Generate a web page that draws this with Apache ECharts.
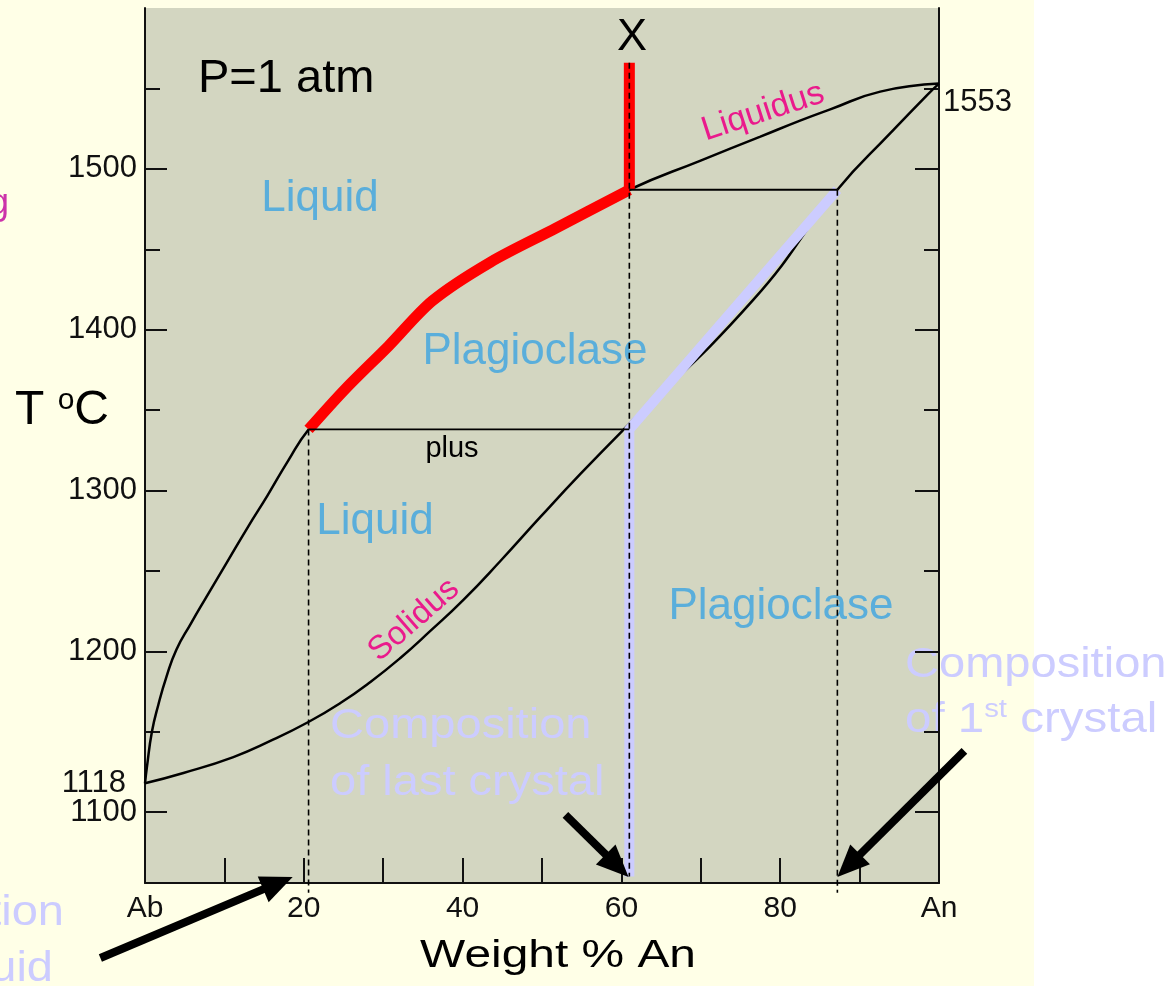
<!DOCTYPE html>
<html><head><meta charset="utf-8">
<script src="https://cdn.jsdelivr.net/npm/echarts@6/dist/echarts.min.js"></script>
<style>
html,body{margin:0;padding:0;}
body{width:1172px;height:986px;overflow:hidden;background:linear-gradient(to right,#ffffe7 0,#ffffe7 1034px,#ffffff 1034px);}
#c{width:1172px;height:986px;}
</style></head><body><div id="c"></div>
<script>
// ---- data (Weight % An, T in °C) ----
const liquidusAn = [0, 0.24, 0.87, 1.69, 2.69, 3.95, 5.74, 7.63, 10.28, 12.92, 15.44, 17.96, 20.6, 25.2, 30.7, 36.2, 43.5, 51.7, 61, 69.9, 77.5, 82.5, 86.3, 92.6, 100];
const liquidusT  = [1118, 1128, 1150, 1167, 1184, 1201, 1217, 1233, 1255, 1277, 1297, 1318, 1338, 1363, 1390, 1418, 1442, 1463, 1487, 1505, 1520, 1530, 1537, 1548, 1553];
const solidusAn  = [0, 4.84, 11.13, 15.79, 20.58, 24.61, 28.39, 32.16, 35.94, 40.1, 44.76, 49.8, 54.84, 60.3, 76.6, 87.2, 93.9, 98.5, 100];
const solidusT   = [1118, 1124.4, 1134.3, 1144.3, 1156.1, 1167.9, 1181, 1195.9, 1212.7, 1232, 1256.2, 1283.6, 1310.3, 1338, 1418.5, 1487, 1522.3, 1545.9, 1553];
const meltPathAn = [61, 61];            // bulk composition X cooling as liquid
const meltPathT  = [1566, 1487];
const liqPathAn  = [20.6, 25.2, 30.7, 36.2, 43.5, 51.7, 61];
const liqPathT   = [1338, 1363, 1390, 1418, 1442, 1463, 1487];
const xtalPathAn = [61, 61, 87.2];
const xtalPathT  = [1060, 1338, 1487];
const tieLowAn   = [20.6, 61];
const tieLowT    = [1338, 1338];
const tieHighAn  = [61, 87.2];
const tieHighT   = [1487, 1487];
const dropAn     = [20.6, 61, 87.2];
const dropTopT   = [1338, 1566, 1487];
const dropBotT   = [1050, 1060, 1050];
const arrowFromAn = [-5.62, 52.95, 103.2];
const arrowFromT  = [1009.4, 1098.3, 1138.1];
const arrowToAn   = [18.6, 60.9, 87.2];
const arrowToT    = [1059.8, 1059.8, 1059.8];
const xTickVals  = [10, 20, 30, 40, 50, 60, 70, 80, 90];
const xLabelVals = [0, 20, 40, 60, 80, 100];
const xLabelText = ['Ab', '20', '40', '60', '80', 'An'];
const yMajor     = [1100, 1200, 1300, 1400, 1500];
const yMinor     = [1150, 1250, 1350, 1450, 1550];
const yLabelVals = [1100, 1200, 1300, 1400, 1500];
const yEutecticLabelVals = [1118];
const yRightLabelVals = [1553];

const pair = (a, b) => a.map((v, i) => [v, b[i]]);
const F = '"Liberation Sans", Arial, Helvetica, sans-serif';
const BLUE = '#5aaedb', MAG = '#ea1a8c', LAV = '#ccccff';
const axisCol = '#111';
const plain = v => String(v);

const yBase = {type: 'value', min: 1056, max: 1600, splitLine: {show: false}};
function line(data, color, width, extra) {
  return Object.assign({type: 'line', data: data, symbol: 'none', showSymbol: false, silent: true,
    emphasis: {disabled: true}, lineStyle: {color: color, width: width}, clip: false, animation: false}, extra || {});
}

const chart = echarts.init(document.getElementById('c'), null, {renderer: 'canvas'});
const texts = [
  {type: 'text', x: 15, y: 411, style: {text: '{a|T }{s|o}{a|C}', verticalAlign: 'middle',
    rich: {a: {fontSize: 48, fontFamily: F, fill: '#000', lineHeight: 50}, s: {fontSize: 30, fontFamily: F, fill: '#000', verticalAlign: 'top'}}}},
  {type: 'text', x: 558, y: 957, scaleX: 1.26, style: {text: 'Weight % An', font: '38px ' + F, fill: '#000', align: 'center', verticalAlign: 'middle'}},
  {type: 'text', x: 198, y: 79, style: {text: 'P=1 atm', font: '47px ' + F, fill: '#000', align: 'left', verticalAlign: 'middle'}},
  {type: 'text', x: 632, y: 38, style: {text: 'X', font: '45px ' + F, fill: '#000', align: 'center', verticalAlign: 'middle'}},
  {type: 'text', x: 320, y: 199, style: {text: 'Liquid', font: '44px ' + F, fill: BLUE, align: 'center', verticalAlign: 'middle'}},
  {type: 'text', x: 535, y: 352, style: {text: 'Plagioclase', font: '44px ' + F, fill: BLUE, align: 'center', verticalAlign: 'middle'}},
  {type: 'text', x: 452, y: 449, style: {text: 'plus', font: '29px ' + F, fill: '#000', align: 'center', verticalAlign: 'middle'}},
  {type: 'text', x: 375, y: 522, style: {text: 'Liquid', font: '44px ' + F, fill: BLUE, align: 'center', verticalAlign: 'middle'}},
  {type: 'text', x: 781, y: 607, style: {text: 'Plagioclase', font: '44px ' + F, fill: BLUE, align: 'center', verticalAlign: 'middle'}},
  {type: 'text', x: 763, y: 112, rotation: 18 * Math.PI / 180, style: {text: 'Liquidus', font: '34px ' + F, fill: MAG, align: 'center', verticalAlign: 'middle'}},
  {type: 'text', x: 414, y: 620, rotation: 41 * Math.PI / 180, style: {text: 'Solidus', font: '33px ' + F, fill: MAG, align: 'center', verticalAlign: 'middle'}},
  {type: 'text', x: 330, y: 726, scaleX: 1.12, style: {text: 'Composition', font: '42px ' + F, fill: LAV, align: 'left', verticalAlign: 'middle'}},
  {type: 'text', x: 330, y: 783, scaleX: 1.12, style: {text: 'of last crystal', font: '42px ' + F, fill: LAV, align: 'left', verticalAlign: 'middle'}},
  {type: 'text', x: 905, y: 665, scaleX: 1.12, style: {text: 'Composition', font: '42px ' + F, fill: LAV, align: 'left', verticalAlign: 'middle'}},
  {type: 'text', x: 905, y: 720, scaleX: 1.13, style: {text: '{a|of 1}{s|st}{a| crystal}', verticalAlign: 'middle',
    rich: {a: {fontSize: 42, fontFamily: F, fill: LAV, lineHeight: 46}, s: {fontSize: 26, fontFamily: F, fill: LAV, verticalAlign: 'top'}}}},
  {type: 'text', x: 64, y: 913, scaleX: 1.12, style: {text: 'Composition', font: '42px ' + F, fill: LAV, align: 'right', verticalAlign: 'middle'}},
  {type: 'text', x: 53, y: 969, scaleX: 1.12, style: {text: 'of liquid', font: '42px ' + F, fill: LAV, align: 'right', verticalAlign: 'middle'}},
  {type: 'text', x: 9, y: 204, style: {text: 'Cooling', font: '36px ' + F, fill: '#cc33aa', align: 'right', verticalAlign: 'middle'}}
];

const option = {
  backgroundColor: 'transparent',
  animation: false,
  grid: {left: 145, right: 233, top: 8, bottom: 103, show: true, backgroundColor: '#d3d6c1', borderWidth: 0, outerBoundsMode: 'none'},
  xAxis: {
    type: 'value', min: 0, max: 100, position: 'bottom',
    axisLine: {show: true, onZero: false, lineStyle: {color: axisCol, width: 2}},
    axisTick: {show: true, inside: true, length: 25, customValues: xTickVals, lineStyle: {color: axisCol, width: 2}},
    axisLabel: {show: true, customValues: xLabelVals, formatter: v => xLabelText[xLabelVals.indexOf(v)],
      fontSize: 30, fontFamily: F, color: '#111', margin: 11},
    splitLine: {show: false}
  },
  yAxis: [
    Object.assign({}, yBase, {position: 'left',
      axisLine: {show: true, lineStyle: {color: axisCol, width: 2}},
      axisTick: {show: true, inside: true, length: 22, customValues: yMajor, lineStyle: {color: axisCol, width: 2}},
      axisLabel: {show: true, customValues: yLabelVals, formatter: plain, fontSize: 31, fontFamily: F, color: '#111', margin: 8}}),
    Object.assign({}, yBase, {position: 'left',
      axisLine: {show: false},
      axisTick: {show: true, inside: true, length: 15, customValues: yMinor, lineStyle: {color: axisCol, width: 2}},
      axisLabel: {show: false}}),
    Object.assign({}, yBase, {position: 'left',
      axisLine: {show: false}, axisTick: {show: false},
      axisLabel: {show: true, customValues: yEutecticLabelVals, formatter: plain, fontSize: 31, fontFamily: F, color: '#111', margin: 19}}),
    Object.assign({}, yBase, {position: 'right',
      axisLine: {show: true, lineStyle: {color: axisCol, width: 2}},
      axisTick: {show: true, inside: true, length: 24, customValues: yMajor, lineStyle: {color: axisCol, width: 2}},
      axisLabel: {show: true, customValues: yRightLabelVals, formatter: plain, fontSize: 31, fontFamily: F, color: '#111',
        margin: 4, verticalAlign: 'top', padding: [3, 0, 0, 0]}}),
    Object.assign({}, yBase, {position: 'right',
      axisLine: {show: false},
      axisTick: {show: true, inside: true, length: 15, customValues: yMinor, lineStyle: {color: axisCol, width: 2}},
      axisLabel: {show: false}})
  ],
  series: [
    line(pair(liquidusAn, liquidusT), '#000', 2.5, {smooth: 0.5}),
    line(pair(solidusAn, solidusT), '#000', 2.5, {smooth: 0.5}),
    line(pair(liqPathAn, liqPathT), '#ff0000', 11, {smooth: 0.3, lineStyle: {color: '#ff0000', width: 11, join: 'round'}}),
    line(pair(meltPathAn, meltPathT), '#ff0000', 11),
    line(pair(xtalPathAn, xtalPathT), LAV, 10, {lineStyle: {color: LAV, width: 10, join: 'miter'}}),
    line(pair(tieLowAn, tieLowT), '#000', 1.8),
    line(pair(tieHighAn, tieHighT), '#000', 1.8),
    ...dropAn.map((a, i) => line([[a, dropTopT[i]], [a, dropBotT[i]]], '#000', 1.6,
      {lineStyle: {color: '#000', width: 1.6, type: [6, 4]}}))
  ],
  graphic: texts
};
chart.setOption(option);

// arrows: endpoints given in data units, converted through the chart's own scales
const headLen = 32, headW = 28;
const arrowEls = [];
arrowFromAn.forEach((a, i) => {
  const p0 = chart.convertToPixel({gridIndex: 0}, [a, arrowFromT[i]]);
  const p1 = chart.convertToPixel({gridIndex: 0}, [arrowToAn[i], arrowToT[i]]);
  const dx = p1[0] - p0[0], dy = p1[1] - p0[1];
  const len = Math.hypot(dx, dy), ux = dx / len, uy = dy / len, nx = -uy, ny = ux;
  const bx = p1[0] - ux * headLen, by = p1[1] - uy * headLen;
  arrowEls.push({type: 'line', z: 100, silent: true,
    shape: {x1: p0[0], y1: p0[1], x2: bx + ux * 3, y2: by + uy * 3},
    style: {stroke: '#000', lineWidth: 8}});
  arrowEls.push({type: 'polygon', z: 100, silent: true,
    shape: {points: [[p1[0], p1[1]], [bx + nx * headW / 2, by + ny * headW / 2], [bx - nx * headW / 2, by - ny * headW / 2]]},
    style: {fill: '#000'}});
});
chart.setOption({graphic: texts.concat(arrowEls)});
</script>
</body></html>
